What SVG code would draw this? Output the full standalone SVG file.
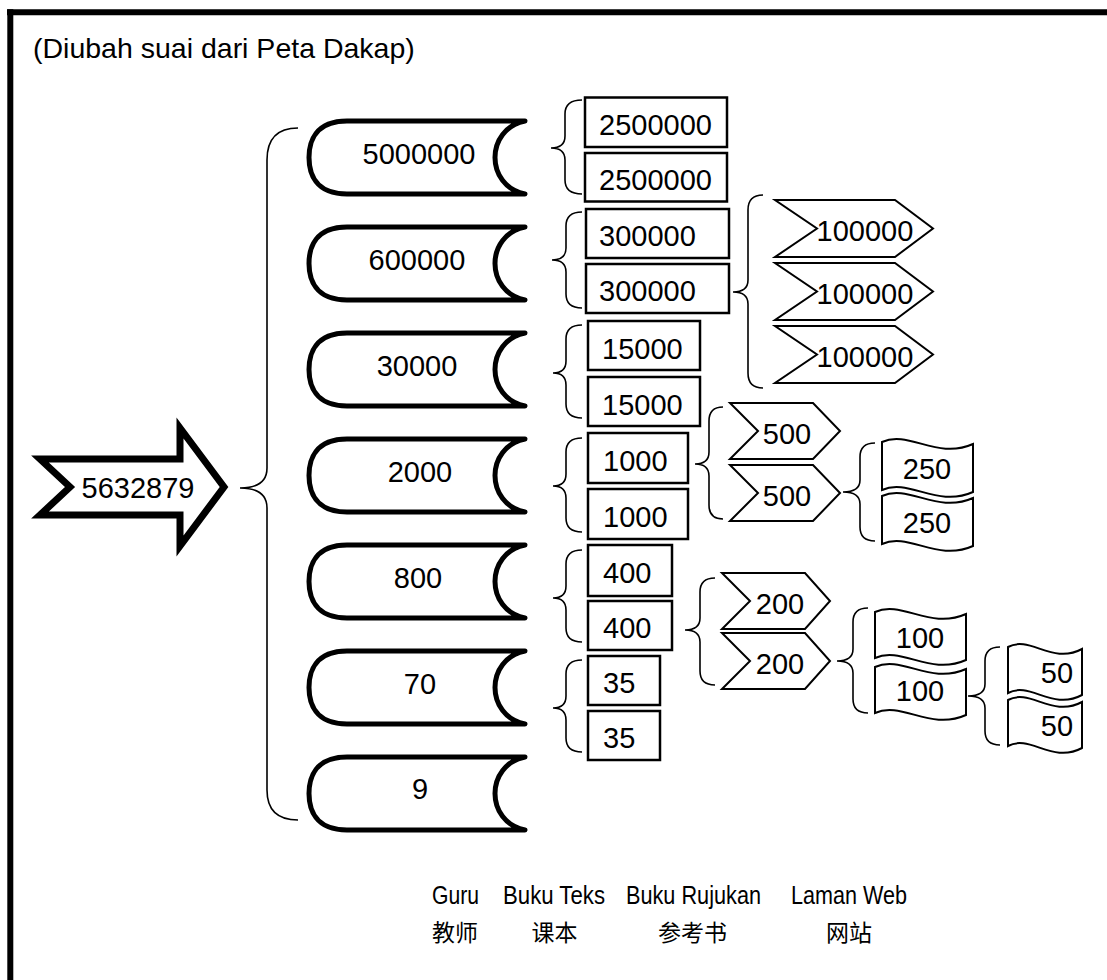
<svg xmlns="http://www.w3.org/2000/svg" width="1107" height="980" viewBox="0 0 1107 980">
<style>
  text { font-family: "Liberation Sans", Arial, sans-serif; fill: #000; }
  .num { font-size: 29px; }
  .ttl { font-size: 28.5px; }
  .mid { text-anchor: middle; }
  .lbl { font-size: 25px; text-anchor: middle; }
  .cjk { font-family: "Noto Sans CJK SC", "Liberation Sans", sans-serif; font-size: 23px; text-anchor: middle; }
  .guru { fill: #fff; stroke: #000; stroke-width: 5; stroke-linejoin: round; }
  .box { fill: #fff; stroke: #000; stroke-width: 2.5; }
  .chev { fill: #fff; stroke: #000; stroke-width: 2; stroke-linejoin: miter; }
  .flag { fill: #fff; stroke: #000; stroke-width: 2; }
  .brace { fill: none; stroke: #000; stroke-width: 1.6; }
  .frame { stroke: #000; stroke-width: 6; }
</style>
<defs>
  <path id="guruShape" d="M38,0 L216,0 C176,8 176,65 216,73 L38,73 C6,73 0,52 0,36.5 C0,21 6,0 38,0 Z"/>
</defs>
<rect x="0" y="0" width="1107" height="980" fill="#fff"/>
<line class="frame" x1="7" y1="12.3" x2="1107" y2="12.3"/>
<line class="frame" x1="10.3" y1="9.3" x2="10.3" y2="980"/>
<text x="33" y="58" class="ttl">(Diubah suai dari Peta Dakap)</text>

<g id="root">
  <path d="M40,459 L180,459 L180,428 L224,487 L180,546 L180,515 L40,515 L70,487 Z" fill="#fff" stroke="#000" stroke-width="7" stroke-linejoin="miter"/>
  <text x="138" y="498" class="num mid">5632879</text>
</g>

<g id="guru-5000000"><use href="#guruShape" class="guru" transform="translate(309,121)"/><text x="419" y="164" class="num mid">5000000</text></g>
<g id="guru-600000"><use href="#guruShape" class="guru" transform="translate(309,227)"/><text x="417" y="270" class="num mid">600000</text></g>
<g id="guru-30000"><use href="#guruShape" class="guru" transform="translate(309,333)"/><text x="417" y="376" class="num mid">30000</text></g>
<g id="guru-2000"><use href="#guruShape" class="guru" transform="translate(309,439)"/><text x="420" y="482" class="num mid">2000</text></g>
<g id="guru-800"><use href="#guruShape" class="guru" transform="translate(309,545)"/><text x="418" y="588" class="num mid">800</text></g>
<g id="guru-70"><use href="#guruShape" class="guru" transform="translate(309,651)"/><text x="420" y="694" class="num mid">70</text></g>
<g id="guru-9"><use href="#guruShape" class="guru" transform="translate(309,757)"/><text x="420" y="799" class="num mid">9</text></g>

<g id="teks-2500000-a"><rect class="box" x="585" y="97.5" width="142" height="49.5"/><text x="599" y="135" class="num">2500000</text></g>
<g id="teks-2500000-b"><rect class="box" x="585" y="153" width="142" height="48.5"/><text x="599" y="190" class="num">2500000</text></g>
<g id="teks-300000-a"><rect class="box" x="586" y="209" width="143" height="49"/><text x="599" y="246" class="num">300000</text></g>
<g id="teks-300000-b"><rect class="box" x="586" y="264" width="143" height="49"/><text x="599" y="301" class="num">300000</text></g>
<g id="teks-15000-a"><rect class="box" x="588" y="321" width="112" height="49"/><text x="602" y="358.5" class="num">15000</text></g>
<g id="teks-15000-b"><rect class="box" x="588" y="377" width="112" height="49"/><text x="602" y="414.5" class="num">15000</text></g>
<g id="teks-1000-a"><rect class="box" x="588" y="433" width="100" height="50"/><text x="603" y="471" class="num">1000</text></g>
<g id="teks-1000-b"><rect class="box" x="588" y="489" width="100" height="50"/><text x="603" y="527" class="num">1000</text></g>
<g id="teks-400-a"><rect class="box" x="588" y="545" width="84" height="51"/><text x="603" y="583" class="num">400</text></g>
<g id="teks-400-b"><rect class="box" x="588" y="601" width="84" height="49"/><text x="603" y="638" class="num">400</text></g>
<g id="teks-35-a"><rect class="box" x="588" y="656" width="72" height="49"/><text x="603" y="693" class="num">35</text></g>
<g id="teks-35-b"><rect class="box" x="588" y="711" width="72" height="49"/><text x="603" y="748" class="num">35</text></g>

<g id="rujukan-100000-a"><path class="chev" d="M775,200 L895,200 L933,228.5 L895,257 L775,257 L817,228.5 Z"/><text x="865" y="241" class="num mid">100000</text></g>
<g id="rujukan-100000-b"><path class="chev" d="M775,263 L895,263 L933,291.5 L895,320 L775,320 L817,291.5 Z"/><text x="865" y="304" class="num mid">100000</text></g>
<g id="rujukan-100000-c"><path class="chev" d="M775,326 L895,326 L933,354.5 L895,383 L775,383 L817,354.5 Z"/><text x="865" y="367" class="num mid">100000</text></g>
<g id="rujukan-500-a"><path class="chev" d="M730,403 L813,403 L840,431 L813,459 L730,459 L758,431 Z"/><text x="787" y="444" class="num mid">500</text></g>
<g id="rujukan-500-b"><path class="chev" d="M730,465 L813,465 L840,493 L813,521 L730,521 L758,493 Z"/><text x="787" y="506" class="num mid">500</text></g>
<g id="rujukan-200-a"><path class="chev" d="M722,573 L805,573 L830,601 L805,629 L722,629 L750,601 Z"/><text x="780" y="614" class="num mid">200</text></g>
<g id="rujukan-200-b"><path class="chev" d="M722,633 L805,633 L830,661 L805,689 L722,689 L750,661 Z"/><text x="780" y="674" class="num mid">200</text></g>

<g id="web-250-a"><path class="flag" transform="translate(882,439)" d="M0,3 C27,-9 55,21 91,5 L91,53 C55,69 27,39 0,51 Z"/><text x="927" y="479" class="num mid">250</text></g>
<g id="web-250-b"><path class="flag" transform="translate(882,493)" d="M0,3 C27,-9 55,21 91,5 L91,53 C55,69 27,39 0,51 Z"/><text x="927" y="533" class="num mid">250</text></g>
<g id="web-100-a"><path class="flag" transform="translate(875,609)" d="M0,3 C27,-9 55,21 91,5 L91,51 C55,67 27,37 0,49 Z"/><text x="920" y="648" class="num mid">100</text></g>
<g id="web-100-b"><path class="flag" transform="translate(875,664)" d="M0,3 C27,-9 55,21 91,5 L91,51 C55,67 27,37 0,49 Z"/><text x="920" y="701" class="num mid">100</text></g>
<g id="web-50-a"><path class="flag" transform="translate(1008,644)" d="M0,3 C22,-9 44,21 74,5 L74,51 C44,67 22,37 0,49 Z"/><text x="1057" y="683" class="num mid">50</text></g>
<g id="web-50-b"><path class="flag" transform="translate(1008,697)" d="M0,3 C22,-9 44,21 74,5 L74,51 C44,67 22,37 0,49 Z"/><text x="1057" y="736" class="num mid">50</text></g>

<g id="connectors">
  <path class="brace" d="M298,128 Q267,128 267,160 L267,468 Q267,488 240,488 Q267,488 267,508 L267,790 Q267,820 298,820"/>
  <path class="brace" d="M582,100 Q565,100 565,114 L565,136 Q565,148 551,148 Q565,148 565,160 L565,180 Q565,194 582,194"/>
  <path class="brace" d="M582,212 Q566,212 566,226 L566,248 Q566,260 552,260 Q566,260 566,272 L566,294 Q566,308 582,308"/>
  <path class="brace" d="M582,325 Q566,325 566,339 L566,361 Q566,373 553,373 Q566,373 566,385 L566,404 Q566,418 582,418"/>
  <path class="brace" d="M582,438 Q566,438 566,452 L566,474 Q566,486 553,486 Q566,486 566,498 L566,518 Q566,532 582,532"/>
  <path class="brace" d="M582,550 Q566,550 566,564 L566,586 Q566,598 553,598 Q566,598 566,610 L566,628 Q566,642 582,642"/>
  <path class="brace" d="M582,660 Q566,660 566,674 L566,696 Q566,708 553,708 Q566,708 566,720 L566,738 Q566,752 582,752"/>
  <path class="brace" d="M763,195 Q748,195 748,210 L748,280 Q748,292 733,292 Q748,292 748,304 L748,373 Q748,388 763,388"/>
  <path class="brace" d="M723,407 Q709,407 709,421 L709,452 Q709,464 695,464 Q709,464 709,476 L709,505 Q709,519 723,519"/>
  <path class="brace" d="M875,443 Q860,443 860,457 L860,480 Q860,492 843,492 Q860,492 860,504 L860,527 Q860,541 875,541"/>
  <path class="brace" d="M715,578 Q700,578 700,592 L700,618 Q700,630 685,630 Q700,630 700,642 L700,671 Q700,685 715,685"/>
  <path class="brace" d="M868,608 Q853,608 853,622 L853,649 Q853,661 837,661 Q853,661 853,673 L853,699 Q853,713 868,713"/>
  <path class="brace" d="M1000,647 Q985,647 985,661 L985,684 Q985,696 968,696 Q985,696 985,708 L985,731 Q985,745 1000,745"/>
</g>

<g id="labels">
  <text x="455.5" y="904" class="lbl" textLength="47" lengthAdjust="spacingAndGlyphs">Guru</text>
  <text x="554" y="904" class="lbl" textLength="102" lengthAdjust="spacingAndGlyphs">Buku Teks</text>
  <text x="693.5" y="904" class="lbl" textLength="135" lengthAdjust="spacingAndGlyphs">Buku Rujukan</text>
  <text x="849" y="904" class="lbl" textLength="116" lengthAdjust="spacingAndGlyphs">Laman Web</text>
  <text x="455" y="941" class="cjk">教师</text>
  <text x="554.5" y="941" class="cjk">课本</text>
  <text x="692.5" y="941" class="cjk">参考书</text>
  <text x="849" y="941" class="cjk">网站</text>
</g>
</svg>
